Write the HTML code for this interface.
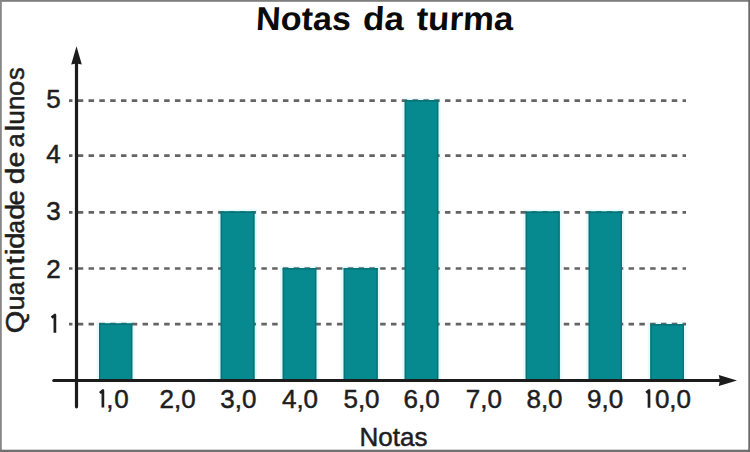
<!DOCTYPE html>
<html><head><meta charset="utf-8">
<style>
html,body{margin:0;padding:0;background:#fff;}
body{width:750px;height:452px;overflow:hidden;position:relative;}
svg{position:absolute;left:0;top:0;}
text{font-family:"Liberation Sans",sans-serif;fill:#1e1e1e;stroke:#1e1e1e;stroke-width:0.5px;}
text.t{fill:#0a0a0a;stroke:none;}
.one{fill:none;stroke:#1e1e1e;stroke-width:2.7px;stroke-linejoin:round;stroke-linecap:butt;}
</style></head>
<body>
<svg width="750" height="452" viewBox="0 0 750 452">
  <rect x="0" y="0" width="750" height="452" fill="#fff"/>
  <!-- border -->
  <rect x="0" y="0" width="750" height="1.8" fill="#7e7e7e"/>
  <rect x="0" y="0" width="1.8" height="452" fill="#888"/>
  <rect x="0" y="449.7" width="750" height="2.3" fill="#707070"/>
  <rect x="748.3" y="0" width="1.7" height="452" fill="#6a6a6a"/>
  <!-- title -->
  <g font-size="33" font-weight="bold" transform="translate(0,30.5) skewX(-3) translate(0,-30.5)">
    <text class="t" x="255.5" y="30.5" textLength="95" lengthAdjust="spacingAndGlyphs">Notas</text>
    <text class="t" x="362.5" y="30.5" textLength="41" lengthAdjust="spacingAndGlyphs">da</text>
    <text class="t" x="416" y="30.5" textLength="97" lengthAdjust="spacingAndGlyphs">turma</text>
  </g>
  <!-- halo -->
  <g fill="#e6fbfb">
    <rect x="96.5" y="321.4" width="38.3" height="59.0"/>
    <rect x="218.2" y="209.4" width="38.8" height="171.0"/>
    <rect x="280.2" y="266.0" width="38.6" height="114.4"/>
    <rect x="341.2" y="266.0" width="39.0" height="114.4"/>
    <rect x="402.2" y="98.0" width="38.6" height="282.4"/>
    <rect x="523.2" y="209.5" width="39.0" height="170.9"/>
    <rect x="586.2" y="209.5" width="38.3" height="170.9"/>
    <rect x="647.8" y="322.0" width="38.7" height="58.4"/>
  </g>
  <!-- dashed grid -->
  <g stroke="#646464" stroke-width="2.7" stroke-dasharray="5.5 5.3" stroke-dashoffset="2.05">
    <line x1="69" y1="100.7" x2="686" y2="100.7"/>
    <line x1="69" y1="155.7" x2="686" y2="155.7"/>
    <line x1="69" y1="212.3" x2="686" y2="212.3"/>
    <line x1="69" y1="268.5" x2="686" y2="268.5"/>
    <line x1="69" y1="324.2" x2="686" y2="324.2"/>
  </g>
  <!-- bars -->
  <g fill="#068a90">
    <rect x="99.0" y="323.4" width="33.3" height="57.0"/>
    <rect x="220.7" y="211.4" width="33.8" height="169.0"/>
    <rect x="282.7" y="268.0" width="33.6" height="112.4"/>
    <rect x="343.7" y="268.0" width="34.0" height="112.4"/>
    <rect x="404.7" y="100.0" width="33.6" height="280.4"/>
    <rect x="525.7" y="211.5" width="34.0" height="168.9"/>
    <rect x="588.7" y="211.5" width="33.3" height="168.9"/>
    <rect x="650.3" y="324.0" width="33.7" height="56.4"/>
  </g>
  <g fill="#08747a">
    <rect x="99.0" y="323.4" width="1.4" height="57.0"/><rect x="130.9" y="323.4" width="1.4" height="57.0"/><rect x="99.0" y="323.4" width="33.3" height="1.6"/>
    <rect x="220.7" y="211.4" width="1.4" height="169.0"/><rect x="253.1" y="211.4" width="1.4" height="169.0"/><rect x="220.7" y="211.4" width="33.8" height="1.6"/>
    <rect x="282.7" y="268.0" width="1.4" height="112.4"/><rect x="314.9" y="268.0" width="1.4" height="112.4"/><rect x="282.7" y="268.0" width="33.6" height="1.6"/>
    <rect x="343.7" y="268.0" width="1.4" height="112.4"/><rect x="376.3" y="268.0" width="1.4" height="112.4"/><rect x="343.7" y="268.0" width="34.0" height="1.6"/>
    <rect x="404.7" y="100.0" width="1.4" height="280.4"/><rect x="436.9" y="100.0" width="1.4" height="280.4"/><rect x="404.7" y="100.0" width="33.6" height="1.6"/>
    <rect x="525.7" y="211.5" width="1.4" height="168.9"/><rect x="558.3" y="211.5" width="1.4" height="168.9"/><rect x="525.7" y="211.5" width="34.0" height="1.6"/>
    <rect x="588.7" y="211.5" width="1.4" height="168.9"/><rect x="620.6" y="211.5" width="1.4" height="168.9"/><rect x="588.7" y="211.5" width="33.3" height="1.6"/>
    <rect x="650.3" y="324.0" width="1.4" height="56.4"/><rect x="682.6" y="324.0" width="1.4" height="56.4"/><rect x="650.3" y="324.0" width="33.7" height="1.6"/>
  </g>
  <!-- axes -->
  <g stroke="#1c1c1c" stroke-width="3.2" stroke-linecap="round">
    <line x1="76.5" y1="62" x2="76.5" y2="406.8"/>
    <line x1="53.8" y1="380.5" x2="722" y2="380.5"/>
  </g>
  <path d="M76.5 46.3 L81.8 64.5 L76.5 63.5 L71.2 64.5 Z" fill="#1c1c1c"/>
  <path d="M737 380.5 L718.8 375.1 L719.8 380.5 L718.8 385.9 Z" fill="#1c1c1c"/>
  <!-- y ticks -->
  <g font-size="26" text-anchor="middle">
    <text x="53.5" y="107.8">5</text>
    <text x="53.5" y="162.8">4</text>
    <text x="53.5" y="219.8">3</text>
    <text x="53.5" y="277.5">2</text>
  </g>
  <path class="one" d="M51.6 317.6 L54.9 315 L54.9 332.8"/>
  <!-- x ticks -->
  <g font-size="26" text-anchor="middle">
    <path class="one" d="M99.9 393 L102.9 390.5 L102.9 407.5"/>
    <text x="106.3" y="408" text-anchor="start">,</text><text x="114.2" y="408" text-anchor="start">0</text>
    <text transform="translate(177.6,408)">2,0</text>
    <text transform="translate(238.3,408)">3,0</text>
    <text transform="translate(300,408)">4,0</text>
    <text transform="translate(361.5,408)">5,0</text>
    <text transform="translate(421.7,408)">6,0</text>
    <text transform="translate(483.8,408)">7,0</text>
    <text transform="translate(544.5,408)">8,0</text>
    <text transform="translate(605.2,408)">9,0</text>
    <path class="one" d="M646.2 392.8 L649 390.4 L649 407.8"/>
    <text x="654.9" y="408" text-anchor="start">0,0</text>
  </g>
  <!-- axis labels -->
  <text x="393.5" y="445.7" text-anchor="middle" font-size="26">Notas</text>
  <g transform="translate(24,0) rotate(-90)" font-size="26">
    <text x="-333.2" textLength="22.50" lengthAdjust="spacingAndGlyphs">Q</text>
    <text x="-310.5" textLength="15.12" lengthAdjust="spacingAndGlyphs">u</text>
    <text x="-295.2" textLength="13.30" lengthAdjust="spacingAndGlyphs">a</text>
    <text x="-280.6" textLength="14.85" lengthAdjust="spacingAndGlyphs">n</text>
    <text x="-264.5" textLength="8.31" lengthAdjust="spacingAndGlyphs">t</text>
    <text x="-255.3" textLength="6.64" lengthAdjust="spacingAndGlyphs">i</text>
    <text x="-249.0" textLength="16.63" lengthAdjust="spacingAndGlyphs">d</text>
    <text x="-233.5" textLength="13.30" lengthAdjust="spacingAndGlyphs">a</text>
    <text x="-219.7" textLength="15.94" lengthAdjust="spacingAndGlyphs">d</text>
    <text x="-205.4" textLength="15.29" lengthAdjust="spacingAndGlyphs">e</text>
    <text x="-184.2" textLength="16.63" lengthAdjust="spacingAndGlyphs">d</text>
    <text x="-167.5" textLength="15.88" lengthAdjust="spacingAndGlyphs">e</text>
    <text x="-147.5" textLength="14.14" lengthAdjust="spacingAndGlyphs">a</text>
    <text x="-131.5" textLength="6.64" lengthAdjust="spacingAndGlyphs">l</text>
    <text x="-124.7" textLength="14.59" lengthAdjust="spacingAndGlyphs">u</text>
    <text x="-110.1" textLength="14.46" lengthAdjust="spacingAndGlyphs">n</text>
    <text x="-96.0" textLength="15.28" lengthAdjust="spacingAndGlyphs">o</text>
    <text x="-79.9" textLength="12.66" lengthAdjust="spacingAndGlyphs">s</text>
  </g>
</svg>
</body></html>
